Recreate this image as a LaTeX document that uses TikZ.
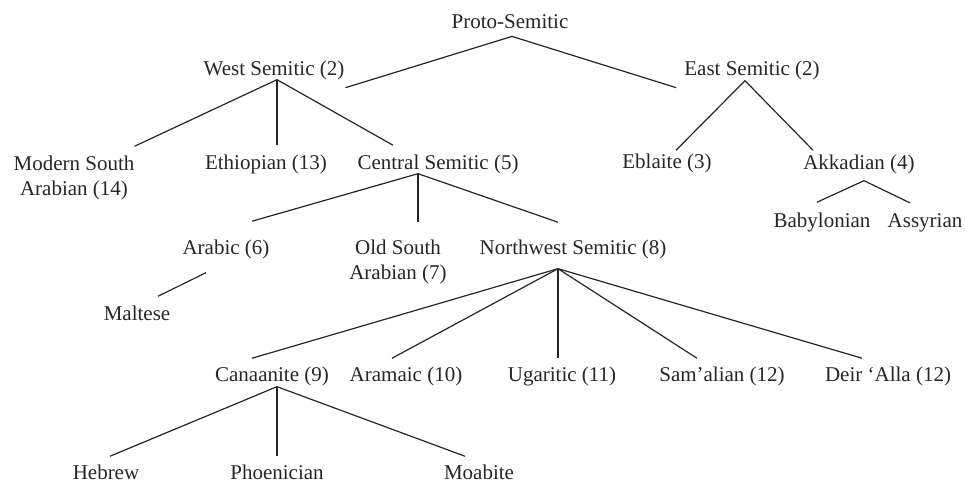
\documentclass[tikz,border=0pt]{standalone}
\usepackage{fontspec}
\setmainfont{Liberation Serif}
\definecolor{inkGray}{HTML}{262626}
\tikzset{
  lang/.style={font=\fontsize{21}{25}\selectfont, text=inkGray, inner sep=0pt, anchor=base, align=center},
  branch/.style={draw=inkGray, line width=1.2pt}
}

\begin{document}
\begin{tikzpicture}[x=1pt, y=-1pt]
        \useasboundingbox (0,0) rectangle (965,483);
        % languages (two-line nodes sit on their last line)
        \node[lang] (ps) at (510,28) {Proto-Semitic};
        \node[lang] (ws) at (274,75) {West Semitic (2)};
        \node[lang] (es) at (752,75) {East Semitic (2)};
        \node[lang] (ms) at (74,195) {Modern South\\Arabian (14)};
        \node[lang] (eth) at (266,169) {Ethiopian (13)};
        \node[lang] (cs) at (438,169) {Central Semitic (5)};
        \node[lang] (ebl) at (667,168) {Eblaite (3)};
        \node[lang] (akk) at (859,169) {Akkadian (4)};
        \node[lang] (bab) at (822,227) {Babylonian};
        \node[lang] (ass) at (925,227) {Assyrian};
        \node[lang] (arb) at (226,254) {Arabic (6)};
        \node[lang] (osa) at (398,279) {Old South\\Arabian (7)};
        \node[lang] (nw) at (573,254) {Northwest Semitic (8)};
        \node[lang] (mal) at (137,320) {Maltese};
        \node[lang] (can) at (272,381) {Canaanite (9)};
        \node[lang] (ara) at (406,381) {Aramaic (10)};
        \node[lang] (uga) at (562,381) {Ugaritic (11)};
        \node[lang] (sam) at (722,381) {Sam’alian (12)};
        \node[lang] (deir) at (888,381) {Deir ‘Alla (12)};
        \node[lang] (heb) at (106,479) {Hebrew};
        \node[lang] (pho) at (277,479) {Phoenician};
        \node[lang] (moa) at (479,479) {Moabite};
        % forks
        \coordinate (psfork) at ([xshift=2pt,yshift=-8pt]ps.south);
        \coordinate (wsfork) at ([xshift=3pt]ws.south);
        \coordinate (esfork) at ([xshift=-7pt,yshift=-1pt]es.south);
        \coordinate (akkfork) at ([xshift=5pt,yshift=-7pt]akk.south);
        \coordinate (csfork) at ([xshift=-20pt]cs.south);
        \coordinate (nwfork) at ([xshift=-15pt,yshift=-10pt]nw.south);
        \coordinate (canfork) at ([xshift=5pt,yshift=-1pt]can.south);
        % branches
        \draw[branch] ([xshift=1pt,yshift=-8pt]ws.south east) -- (psfork) -- ([xshift=-8pt,yshift=-8pt]es.south west);
        \draw[branch] ([yshift=9pt]ms.north east) -- (wsfork) -- ([xshift=-45pt,yshift=9pt]cs.north);
        \draw[branch] (wsfork) -- ([yshift=9pt]wsfork |- eth.north);
        \draw[branch] ([xshift=9pt,yshift=3pt]ebl.north) -- (esfork) -- ([xshift=-46pt,yshift=4pt]akk.north);
        \draw[branch] ([xshift=-5pt,yshift=10pt]bab.north) -- (akkfork) -- ([xshift=-15pt,yshift=10pt]ass.north);
        \draw[branch] ([xshift=26pt,yshift=18pt]arb.north) -- (csfork) -- ([xshift=-15pt,yshift=17pt]nw.north);
        \draw[branch] (csfork) -- ([yshift=17pt]csfork |- osa.north);
        \draw[branch] ([xshift=-20pt,yshift=-14pt]arb.south) -- ([xshift=21pt,yshift=9pt]mal.north);
        \draw[branch] ([xshift=-20pt,yshift=8pt]can.north) -- (nwfork) -- ([xshift=-25pt,yshift=8pt]sam.north);
        \draw[branch] ([xshift=-14pt,yshift=8pt]ara.north) -- (nwfork) -- ([xshift=-26pt,yshift=8pt]deir.north);
        \draw[branch] (nwfork) -- ([yshift=8pt]nwfork |- uga.north);
        \draw[branch] ([xshift=4pt,yshift=8pt]heb.north) -- (canfork) -- ([xshift=-14pt,yshift=8pt]moa.north);
        \draw[branch] (canfork) -- ([yshift=8pt]canfork |- pho.north);
\end{tikzpicture}
\end{document}
